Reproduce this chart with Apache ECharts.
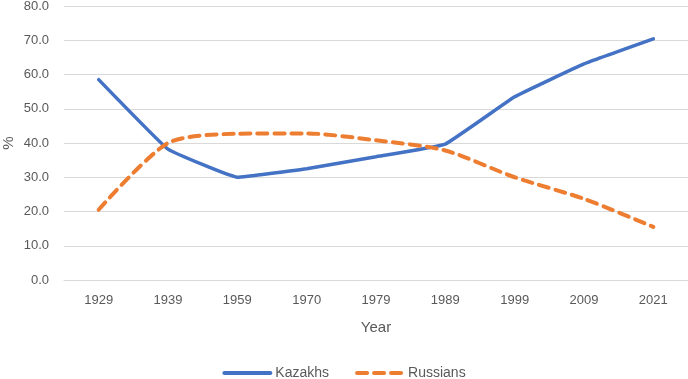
<!DOCTYPE html>
<html>
<head>
<meta charset="utf-8">
<script src="https://cdn.jsdelivr.net/npm/echarts@6/dist/echarts.min.js"></script>
<style>
  html,body{margin:0;padding:0;background:#fff;}
  #chart{width:688px;height:379px;}
</style>
</head>
<body>
<div id="chart"></div>
<script>
// census years
var years = ['1929','1939','1959','1970','1979','1989','1999','2009','2021'];
// share of population, %
var kazakhs = [58.5, 38.2, 30.0, 32.5, 36.0, 39.7, 53.5, 63.1, 70.4];
var russians = [20.5, 40.0, 42.7, 42.8, 40.8, 37.8, 30.0, 23.7, 15.5];

var chart = echarts.init(document.getElementById('chart'));
var textColor = '#595959';
var option = {
  animation: false,
  grid: {left: 64, right: 0, top: 6, bottom: 99, containLabel: false, outerBoundsMode: 'none'},
  legend: {
    top: 361,
    left: 'center',
    itemWidth: 46,
    itemHeight: 10,
    itemGap: 26,
    itemStyle: {opacity: 0},
    lineStyle: {width: 4},
    textStyle: {color: textColor, fontSize: 14, fontFamily: 'Liberation Sans'},
    data: ['Kazakhs', 'Russians']
  },
  xAxis: {
    type: 'category',
    data: years,
    boundaryGap: true,
    name: 'Year',
    nameLocation: 'middle',
    nameGap: 40,
    nameMoveOverlap: false,
    nameTextStyle: {color: textColor, fontSize: 15, fontFamily: 'Liberation Sans'},
    axisLine: {lineStyle: {color: '#d9d9d9', width: 1}},
    axisTick: {show: false},
    axisLabel: {color: textColor, fontSize: 13, margin: 14, fontFamily: 'Liberation Sans'}
  },
  yAxis: {
    type: 'value',
    min: 0,
    max: 80,
    interval: 10,
    name: '%',
    nameLocation: 'middle',
    nameRotate: 90,
    nameGap: 55,
    nameMoveOverlap: false,
    nameTextStyle: {color: textColor, fontSize: 15, fontFamily: 'Liberation Sans', verticalAlign: 'middle'},
    axisLine: {show: false},
    axisTick: {show: false},
    splitLine: {lineStyle: {color: '#d9d9d9', width: 1}},
    axisLabel: {
      color: textColor, fontSize: 13, margin: 15, fontFamily: 'Liberation Sans',
      formatter: function (v) { return v.toFixed(1); }
    }
  },
  series: [
    {
      name: 'Kazakhs',
      type: 'line',
      data: kazakhs,
      symbol: 'none',
      smooth: 0.08,
      color: '#4472C4',
      lineStyle: {width: 3.5, color: '#4472C4', cap: 'round'}
    },
    {
      name: 'Russians',
      type: 'line',
      data: russians,
      symbol: 'none',
      smooth: 0.25,
      color: '#ED7D31',
      lineStyle: {width: 4, color: '#ED7D31', type: [10, 7], cap: 'round'}
    }
  ]
};
chart.setOption(option);
</script>
</body>
</html>
